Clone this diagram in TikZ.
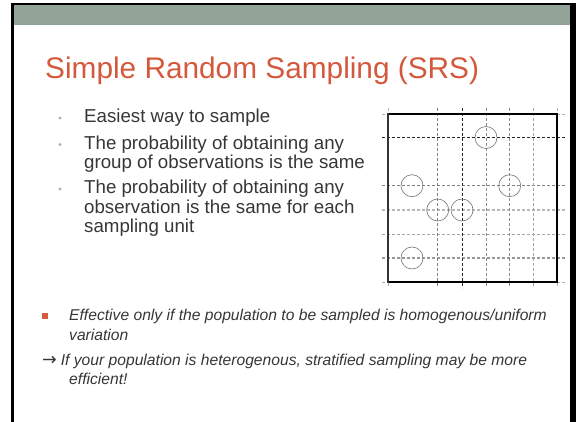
\documentclass[tikz,border=0pt]{standalone}
\usepackage{fontspec}
\setmainfont{Liberation Sans}
\newfontfamily\arrowfont{DejaVu Sans}
\definecolor{titlered}{HTML}{D4583C}
\definecolor{band}{HTML}{94A398}
\definecolor{txt}{HTML}{363636}
\definecolor{dotc}{HTML}{A9B5AC}
\definecolor{sq}{HTML}{D65A3E}
\begin{document}
\begin{tikzpicture}[x=1pt,y=-1pt,
  line/.style={anchor=base west,inner sep=0pt,text=txt,font=\fontsize{18.7}{20}\selectfont},
  low/.style={anchor=base west,inner sep=0pt,text=txt,font=\fontsize{15.65}{18}\selectfont\itshape},
  dotb/.style={circle,fill=dotc,inner sep=0pt,minimum size=3.2pt},
  gl/.style={dash pattern=on 3pt off 2pt},
  samp/.style={draw=black!55,line width=0.6pt}]
\useasboundingbox (0,0) rectangle (576,422);
% slide frame
\fill[black] (11,3) rectangle (14,422);
\fill[black] (11,3) rectangle (576,5);
\fill[black] (570,3) rectangle (576,422);
\fill[band] (14,5) rectangle (570,25);
% title
\node[anchor=base west,inner sep=0pt,text=titlered,font=\fontsize{29.8}{34}\selectfont] (title) at (45,79) {Simple Random Sampling (SRS)};
% bullets
\node[dotb] (d1) at (60,118) {};
\node[dotb] (d2) at (60,144.5) {};
\node[dotb] (d3) at (60,189) {};
\node[line] (l1) at (84,123) {Easiest way to sample};
\node[line] (l2) at (84,149.5) {The probability of obtaining any};
\node[line] (l3) at (84,169) {group of observations is the same};
\node[line] (l4) at (84,194) {The probability of obtaining any};
\node[line] (l5) at (84,213.5) {observation is the same for each};
\node[line] (l6) at (84,233) {sampling unit};
% grid figure
\foreach \x in {388,557} \draw[gl,black!30,line width=0.6pt] (\x,108) -- (\x,288);
\foreach \y in {114,282} \draw[gl,black!30,line width=0.6pt] (382,\y) -- (566,\y);
\draw[gl,black!85,line width=0.7pt] (382,137.5) -- (566,137.5);
\draw[gl,black!50,line width=0.6pt] (382,185.7) -- (566,185.7);
\draw[gl,black!28,line width=1.2pt] (382,210) -- (566,210);
\draw[gl,black!35,line width=0.6pt] (382,234) -- (566,234);
\draw[gl,black!40,line width=1.2pt] (382,258) -- (566,258);
\draw[gl,black!50,line width=0.6pt] (437.7,108) -- (437.7,288);
\draw[gl,black!85,line width=0.7pt] (462,108) -- (462,288);
\draw[gl,black!45,line width=0.6pt] (485.9,108) -- (485.9,288);
\draw[gl,black!45,line width=0.6pt] (509.7,108) -- (509.7,288);
\draw[gl,black!35,line width=1.2pt] (533.6,108) -- (533.6,288);
\draw[black,line width=1.3pt] (388,114) -- (557,114) -- (557,282) -- (388,282);
\draw[black!80,line width=2pt] (388,113.4) -- (388,282.6);
\node[samp,circle,minimum size=22pt,inner sep=0pt] (c1) at (486,137.5) {};
\node[samp,circle,minimum size=22pt,inner sep=0pt] (c2) at (412,185.7) {};
\node[samp,circle,minimum size=22pt,inner sep=0pt] (c3) at (509.7,185.7) {};
\node[samp,circle,minimum size=22pt,inner sep=0pt] (c4) at (437.7,210) {};
\node[samp,circle,minimum size=22pt,inner sep=0pt] (c5) at (462,210) {};
\node[samp,circle,minimum size=22pt,inner sep=0pt] (c6) at (412,258) {};
% bottom notes
\node[fill=sq,inner sep=0pt,minimum size=6pt] (sqb) at (44.7,315.8) {};
\node[low] (b1) at (69,320.5) {Effective only if the population to be sampled is homogenous/uniform};
\node[low] (b2) at (69,340) {variation};
\node[low] (b3) at (42,365) {{\arrowfont\upshape\fontsize{17.5}{18}\selectfont →}\hspace{4pt}If your population is heterogenous, stratified sampling may be more};
\node[low] (b4) at (69,384.5) {efficient!};
\end{tikzpicture}
\end{document}
